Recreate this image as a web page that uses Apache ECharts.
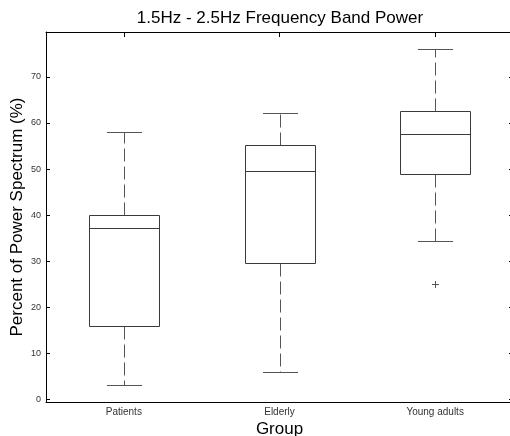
<!DOCTYPE html>
<html>
<head>
<meta charset="utf-8">
<script src="https://cdn.jsdelivr.net/npm/echarts@6/dist/echarts.min.js"></script>
<style>
  html, body { margin: 0; padding: 0; background: #fff; }
  #chart { width: 510px; height: 436px; }
</style>
</head>
<body>
<div id="chart"></div>
<script>
// group labels and box statistics
const categories = ['Patients', 'Elderly', 'Young adults'];
const whiskerLow = [3.2, 6.1, 34.3];
const q1 = [16.0, 29.6, 48.9];
const median = [37.3, 49.6, 57.5];
const q3 = [40.1, 55.2, 62.6];
const whiskerHigh = [58.1, 62.1, 76.1];
// [group index, value]
const outliers = [[2, 25.0]];
const yTicks = [0, 10, 20, 30, 40, 50, 60, 70];

const FONT = '"Liberation Sans", Arial, Helvetica, sans-serif';
const BOX_COLOR = '#3a3a3a';
const WHISKER_COLOR = '#555';

const boxData = categories.map((c, i) => [i, whiskerLow[i], q1[i], median[i], q3[i], whiskerHigh[i]]);

function renderBox(params, api) {
    const x = api.value(0);
    const pLow = api.coord([x, api.value(1)]);
    const pQ1 = api.coord([x, api.value(2)]);
    const pMed = api.coord([x, api.value(3)]);
    const pQ3 = api.coord([x, api.value(4)]);
    const pHigh = api.coord([x, api.value(5)]);
    const band = api.size([1, 0])[0];
    const bw = band * 0.45;
    const cw = bw / 2;
    const cx = Math.round(pMed[0]) + 0.5;
    const snap = v => Math.round(v) + 0.5;
    const solid = { stroke: BOX_COLOR, lineWidth: 1, fill: null };
    const dashed = { stroke: WHISKER_COLOR, lineWidth: 1, lineDash: [13, 5] };
    const capStyle = { stroke: WHISKER_COLOR, lineWidth: 1 };
    return {
        type: 'group',
        children: [
            // upper whisker
            { type: 'line', shape: { x1: cx, y1: snap(pQ3[1]), x2: cx, y2: snap(pHigh[1]) }, style: dashed },
            // lower whisker
            { type: 'line', shape: { x1: cx, y1: snap(pQ1[1]), x2: cx, y2: snap(pLow[1]) }, style: dashed },
            // caps
            { type: 'line', shape: { x1: cx - cw / 2, y1: snap(pHigh[1]), x2: cx + cw / 2, y2: snap(pHigh[1]) }, style: capStyle },
            { type: 'line', shape: { x1: cx - cw / 2, y1: snap(pLow[1]), x2: cx + cw / 2, y2: snap(pLow[1]) }, style: capStyle },
            // box
            { type: 'rect', shape: { x: snap(cx - bw / 2), y: snap(pQ3[1]), width: Math.round(bw), height: Math.round(pQ1[1] - pQ3[1]) }, style: solid },
            // median
            { type: 'line', shape: { x1: snap(cx - bw / 2), y1: snap(pMed[1]), x2: snap(cx - bw / 2) + Math.round(bw), y2: snap(pMed[1]) }, style: { stroke: BOX_COLOR, lineWidth: 1 } }
        ]
    };
}

function renderOutlier(params, api) {
    const p = api.coord([api.value(0), api.value(1)]);
    const x = Math.round(p[0]) + 0.5;
    const y = Math.round(p[1]) + 0.5;
    const s = 3.5;
    const st = { stroke: '#555', lineWidth: 1 };
    return {
        type: 'group',
        children: [
            { type: 'line', shape: { x1: x - s, y1: y, x2: x + s, y2: y }, style: st },
            { type: 'line', shape: { x1: x, y1: y - s, x2: x, y2: y + s }, style: st }
        ]
    };
}

const chart = echarts.init(document.getElementById('chart'), null, { renderer: 'canvas' });

const yMin = -0.5;
const yMax = 79.7;

const option = {
    backgroundColor: '#fff',
    animation: false,
    title: {
        text: '1.5Hz - 2.5Hz Frequency Band Power',
        left: 275,
        top: 5,
        textAlign: 'center',
        textStyle: { fontFamily: FONT, fontSize: 17, fontWeight: 'normal', color: '#000' }
    },
    grid: { left: 46, right: -3, top: 32, bottom: 34, outerBoundsMode: 'none', containLabel: false },
    xAxis: [
        {
            type: 'category',
            data: categories,
            position: 'bottom',
            name: 'Group',
            nameLocation: 'middle',
            nameGap: 19,
            nameMoveOverlap: false,
            nameTextStyle: { fontFamily: FONT, fontSize: 17, color: '#000' },
            axisLine: { show: true, onZero: false, lineStyle: { color: '#000', width: 1 } },
            axisTick: { inside: true, alignWithLabel: true, length: 4, lineStyle: { color: '#000' } },
            axisLabel: { fontFamily: FONT, fontSize: 10, color: '#333', margin: 5 },
            splitLine: { show: false }
        },
        {
            type: 'category',
            data: categories,
            position: 'top',
            axisLine: { show: true, onZero: false, lineStyle: { color: '#000', width: 1 } },
            axisTick: { show: true, inside: true, alignWithLabel: true, length: 5, lineStyle: { color: '#000' } },
            axisLabel: { show: false },
            splitLine: { show: false }
        }
    ],
    yAxis: [
        {
            type: 'value',
            min: yMin,
            max: yMax,
            position: 'left',
            name: 'Percent of Power Spectrum (%)',
            nameLocation: 'middle',
            nameGap: 20,
            nameMoveOverlap: false,
            nameTextStyle: { fontFamily: FONT, fontSize: 17, color: '#000' },
            axisLine: { show: true, onZero: false, lineStyle: { color: '#000', width: 1 } },
            axisTick: { show: true, inside: true, length: 4, customValues: yTicks, lineStyle: { color: '#000' } },
            axisLabel: { fontFamily: FONT, fontSize: 9, color: '#333', margin: 5, customValues: yTicks },
            splitLine: { show: false }
        },
        {
            type: 'value',
            min: yMin,
            max: yMax,
            position: 'right',
            axisLine: { show: true, onZero: false, lineStyle: { color: '#000', width: 1 } },
            axisTick: { show: true, inside: true, length: 4, customValues: yTicks, lineStyle: { color: '#000' } },
            axisLabel: { show: false },
            splitLine: { show: false }
        }
    ],
    series: [
        {
            type: 'custom',
            name: 'box',
            xAxisIndex: 0,
            yAxisIndex: 0,
            renderItem: renderBox,
            encode: { x: 0, y: [1, 2, 3, 4, 5] },
            data: boxData,
            silent: true
        },
        {
            type: 'custom',
            name: 'outliers',
            xAxisIndex: 0,
            yAxisIndex: 0,
            renderItem: renderOutlier,
            encode: { x: 0, y: 1 },
            data: outliers,
            silent: true
        }
    ]
};

chart.setOption(option);
</script>
</body>
</html>
